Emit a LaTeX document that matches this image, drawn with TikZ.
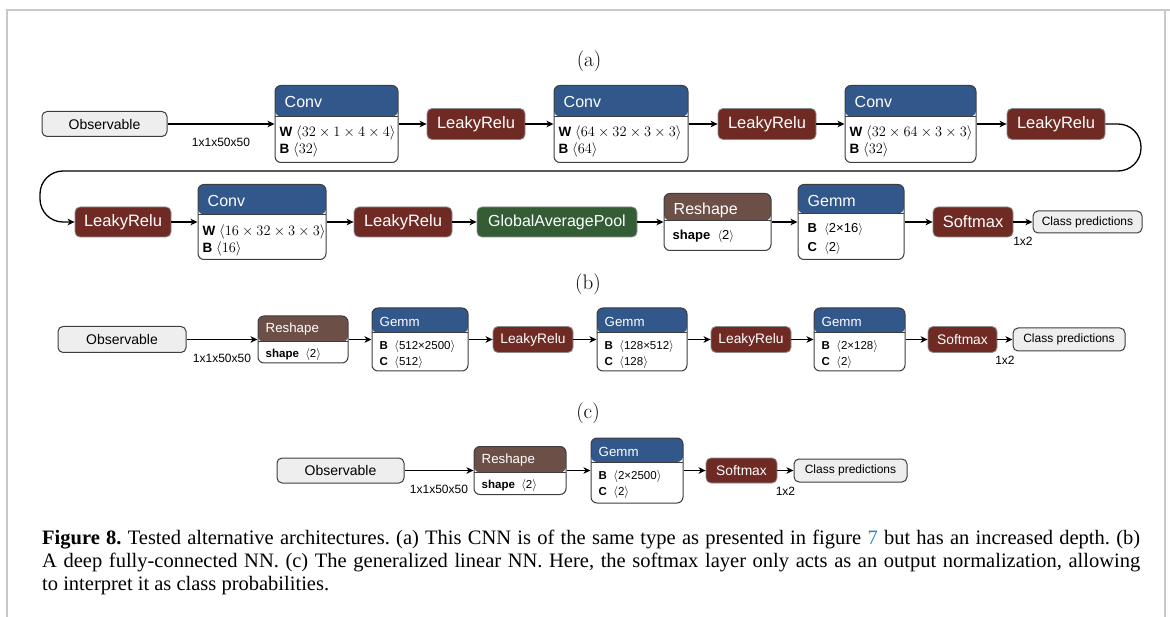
\documentclass[tikz,border=0pt]{standalone}
\usepackage{fontspec}
\setsansfont{Liberation Sans}
\newfontfamily\capfont{Liberation Serif}
\usetikzlibrary{calc}
\usetikzlibrary{arrows.meta}

\definecolor{convblue}{HTML}{31578B}
\definecolor{relured}{HTML}{6F2A24}
\definecolor{poolgreen}{HTML}{345D36}
\definecolor{reshapebrown}{HTML}{6C5047}
\definecolor{boxedge}{HTML}{3D3D3D}
\definecolor{iofill}{HTML}{EEEEEE}
\definecolor{framegray}{HTML}{C8C8C8}
\definecolor{linkblue}{HTML}{2C87C4}

\tikzstyle{io}=[%
  draw=boxedge,
  line width=1pt,
  fill=iofill,
  rounded corners=5pt,
  inner sep=0pt,
  font=\sffamily\fontsize{14pt}{16pt}\selectfont
]
\tikzstyle{classbox}=[io, font=\sffamily\fontsize{12pt}{14pt}\selectfont]
\tikzstyle{op}=[%
  draw=boxedge!60,
  line width=0.8pt,
  fill=relured,
  text=white,
  rounded corners=5pt,
  inner sep=0pt,
  font=\sffamily\fontsize{16.5pt}{18pt}\selectfont
]
\tikzstyle{opsmall}=[op, font=\sffamily\fontsize{13.8pt}{16pt}\selectfont]
\tikzstyle{pool}=[op, fill=poolgreen, font=\sffamily\fontsize{16pt}{18pt}\selectfont]
\tikzstyle{flow}=[line width=1.3pt, -{Stealth[length=7pt,width=6.5pt,inset=2pt]}]
\tikzstyle{dims}=[inner sep=0pt, font=\sffamily\fontsize{12pt}{14pt}\selectfont]
\tikzstyle{head}=[text=white, anchor=west, inner sep=0pt]
\tikzstyle{param}=[anchor=west, inner sep=0pt]
\tikzstyle{part}=[font=\fontsize{21pt}{23pt}\selectfont]
\tikzset{
  layer/.style 2 args={draw=boxedge, line width=1pt, fill=white, rounded corners=6pt, inner sep=0pt,
    path picture={
      \fill[#1] ([yshift=2pt]path picture bounding box.north west)
        rectangle ([yshift=-#2]path picture bounding box.north east);
      \draw[boxedge, line width=1pt] ([yshift=-#2]path picture bounding box.north west)
        -- ([yshift=-#2]path picture bounding box.north east);
    }},
}

\begin{document}
\begin{tikzpicture}[x=1pt, y=-1pt]
  \useasboundingbox (0,0) rectangle (1170,617);
  % frame
  \draw[framegray, line width=1.5pt] (7,617) -- (7,10) -- (1170,10);
  \draw[framegray, line width=1.5pt] (1165,10) -- (1165,617);

  % (a) deeper CNN
  \node[part] (labA) at (589,61) {(a)};
  \node[io, minimum width=125pt, minimum height=25pt] (obsA) at (104.5,124) {Observable};
  \node[layer={convblue}{31pt}, minimum width=123pt, minimum height=77pt] (convA1) at (336.5,124) {};
  \node[op, minimum width=98pt, minimum height=31pt] (reluA1) at (476,124) {LeakyRelu};
  \node[layer={convblue}{31pt}, minimum width=134pt, minimum height=77pt] (convA2) at (621,124) {};
  \node[op, minimum width=98pt, minimum height=31pt] (reluA2) at (767,124) {LeakyRelu};
  \node[layer={convblue}{31pt}, minimum width=131pt, minimum height=77pt] (convA3) at (910.5,124) {};
  \node[op, minimum width=98pt, minimum height=31pt] (reluA3) at (1056,124) {LeakyRelu};

  \node[op, minimum width=96pt, minimum height=30pt] (reluA4) at (123,222) {LeakyRelu};
  \node[layer={convblue}{30pt}, minimum width=128pt, minimum height=75pt] (convA4) at (262,222) {};
  \node[op, minimum width=98pt, minimum height=30pt] (reluA5) at (403,222) {LeakyRelu};
  \node[pool, minimum width=160pt, minimum height=30pt] (poolA) at (557,222) {GlobalAveragePool};
  \node[layer={reshapebrown}{27pt}, minimum width=107pt, minimum height=57pt] (reshapeA) at (717.5,222) {};
  \node[layer={convblue}{29pt}, minimum width=106pt, minimum height=75pt] (gemmA) at (851,222) {};
  \node[op, minimum width=80pt, minimum height=30pt] (softA) at (973,222) {Softmax};
  \node[classbox, minimum width=109pt, minimum height=22pt] (classA) at (1087.5,222) {Class predictions};

  \foreach \n/\t in {convA1/Conv, convA2/Conv, convA3/Conv, convA4/Conv, reshapeA/Reshape, gemmA/Gemm} {%
    \node[head, font=\sffamily\fontsize{16pt}{18pt}\selectfont] at ($(\n.north west)+(10,17)$) {\t};
  }
  \foreach \n/\w/\b in {convA1/{32\times1\times4\times4}/32, convA2/{64\times32\times3\times3}/64,
                        convA3/{32\times64\times3\times3}/32, convA4/{16\times32\times3\times3}/16} {%
    \node[param, font=\sffamily\fontsize{13.5pt}{16pt}\selectfont] at ($(\n.north west)+(5,48)$) {\textbf{W} $\langle\w\rangle$};
    \node[param, font=\sffamily\fontsize{13.5pt}{16pt}\selectfont] at ($(\n.north west)+(5,65)$) {\textbf{B} $\langle\b\rangle$};
  }
  \node[param, font=\sffamily\fontsize{13pt}{15pt}\selectfont] at ($(gemmA.north west)+(10,45)$) {\textbf{B}\ \ $\langle$2×16$\rangle$};
  \node[param, font=\sffamily\fontsize{13pt}{15pt}\selectfont] at ($(gemmA.north west)+(10,64)$) {\textbf{C}\ \ $\langle$2$\rangle$};
  \node[param, font=\sffamily\fontsize{13pt}{15pt}\selectfont] at ($(reshapeA.north west)+(9,43)$) {\textbf{shape}\ \ $\langle$2$\rangle$};

  \draw[flow] (obsA) -- node[dims, below=13pt] {1x1x50x50} (convA1);
  \foreach \a/\b in {convA1/reluA1, reluA1/convA2, convA2/reluA2, reluA2/convA3, convA3/reluA3,
                     reluA4/convA4, convA4/reluA5, reluA5/poolA, poolA/reshapeA, reshapeA/gemmA, gemmA/softA} {%
    \draw[flow] (\a) -- (\b);
  }
  \draw[flow] (softA) -- node[dims, below=14pt] {1x2} (classA);
  \draw[flow, rounded corners=23pt] (reluA3.east) -- (1141,124) -- (1141,171) -- (40,171) -- (40,222) -- (reluA4.west);

  % (b) fully-connected NN
  \node[part] (labB) at (588,284) {(b)};
  \node[io, minimum width=128pt, minimum height=26pt] (obsB) at (122,339.5) {Observable};
  \node[layer={reshapebrown}{26pt}, minimum width=90pt, minimum height=47pt] (reshapeB) at (303,339.5) {};
  \node[layer={convblue}{25pt}, minimum width=96pt, minimum height=63pt] (gemmB1) at (420,339.5) {};
  \node[opsmall, minimum width=80pt, minimum height=26pt] (reluB1) at (533,339.5) {LeakyRelu};
  \node[layer={convblue}{25pt}, minimum width=90pt, minimum height=63pt] (gemmB2) at (642,339.5) {};
  \node[opsmall, minimum width=80pt, minimum height=26pt] (reluB2) at (751,339.5) {LeakyRelu};
  \node[layer={convblue}{25pt}, minimum width=91pt, minimum height=63pt] (gemmB3) at (859.5,339.5) {};
  \node[opsmall, minimum width=69pt, minimum height=26pt] (softB) at (962.5,339.5) {Softmax};
  \node[classbox, minimum width=112pt, minimum height=23pt] (classB) at (1069,339.5) {Class predictions};

  % (c) generalized linear NN
  \node[part] (labC) at (588,413) {(c)};
  \node[io, minimum width=127pt, minimum height=25pt] (obsC) at (340.5,470.5) {Observable};
  \node[layer={reshapebrown}{26pt}, minimum width=92pt, minimum height=48pt] (reshapeC) at (520,470.5) {};
  \node[layer={convblue}{24pt}, minimum width=92pt, minimum height=65pt] (gemmC) at (637,470.5) {};
  \node[opsmall, minimum width=71pt, minimum height=25pt] (softC) at (741.5,470.5) {Softmax};
  \node[classbox, minimum width=113pt, minimum height=23pt] (classC) at (850.5,470.5) {Class predictions};

  \foreach \n/\t in {reshapeB/Reshape, gemmB1/Gemm, gemmB2/Gemm, gemmB3/Gemm, reshapeC/Reshape, gemmC/Gemm} {%
    \node[head, font=\sffamily\fontsize{13.3pt}{15pt}\selectfont] at ($(\n.north west)+(8,14)$) {\t};
  }
  \foreach \n/\b/\c in {gemmB1/512×2500/512, gemmB2/128×512/128, gemmB3/2×128/2, gemmC/2×2500/2} {%
    \node[param, font=\sffamily\fontsize{11.5pt}{13pt}\selectfont] at ($(\n.north west)+(8,39)$) {\textbf{B}\ \ $\langle$\b$\rangle$};
    \node[param, font=\sffamily\fontsize{11.5pt}{13pt}\selectfont] at ($(\n.north west)+(8,55)$) {\textbf{C}\ \ $\langle$\c$\rangle$};
  }
  \foreach \n in {reshapeB, reshapeC} {%
    \node[param, font=\sffamily\fontsize{11.5pt}{13pt}\selectfont] at ($(\n.north west)+(8,39)$) {\textbf{shape}\ \ $\langle$2$\rangle$};
  }

  \draw[flow] (obsB) -- node[dims, below=14pt] {1x1x50x50} (reshapeB);
  \draw[flow] (obsC) -- node[dims, below=14pt] {1x1x50x50} (reshapeC);
  \foreach \a/\b in {reshapeB/gemmB1, gemmB1/reluB1, reluB1/gemmB2, gemmB2/reluB2, reluB2/gemmB3, gemmB3/softB,
                     reshapeC/gemmC, gemmC/softC} {%
    \draw[flow] (\a) -- (\b);
  }
  \draw[flow] (softB) -- node[dims, below=16pt] {1x2} (classB);
  \draw[flow] (softC) -- node[dims, below=16pt] {1x2} (classC);

  % caption
  \node[anchor=north west, text width=1098pt, align=justify, inner sep=0pt,
        font=\capfont\fontsize{20.5pt}{23pt}\selectfont\frenchspacing] (caption) at (42,530)
    {\textbf{Figure 8.} Tested alternative architectures. (a) This CNN is of the same type as presented in figure {\color{linkblue}7} but has an increased depth. (b)\linebreak
     A deep fully-connected NN. (c) The generalized linear NN. Here, the softmax layer only acts as an output normalization, allowing\linebreak
     to interpret it as class probabilities.};
\end{tikzpicture}
\end{document}
